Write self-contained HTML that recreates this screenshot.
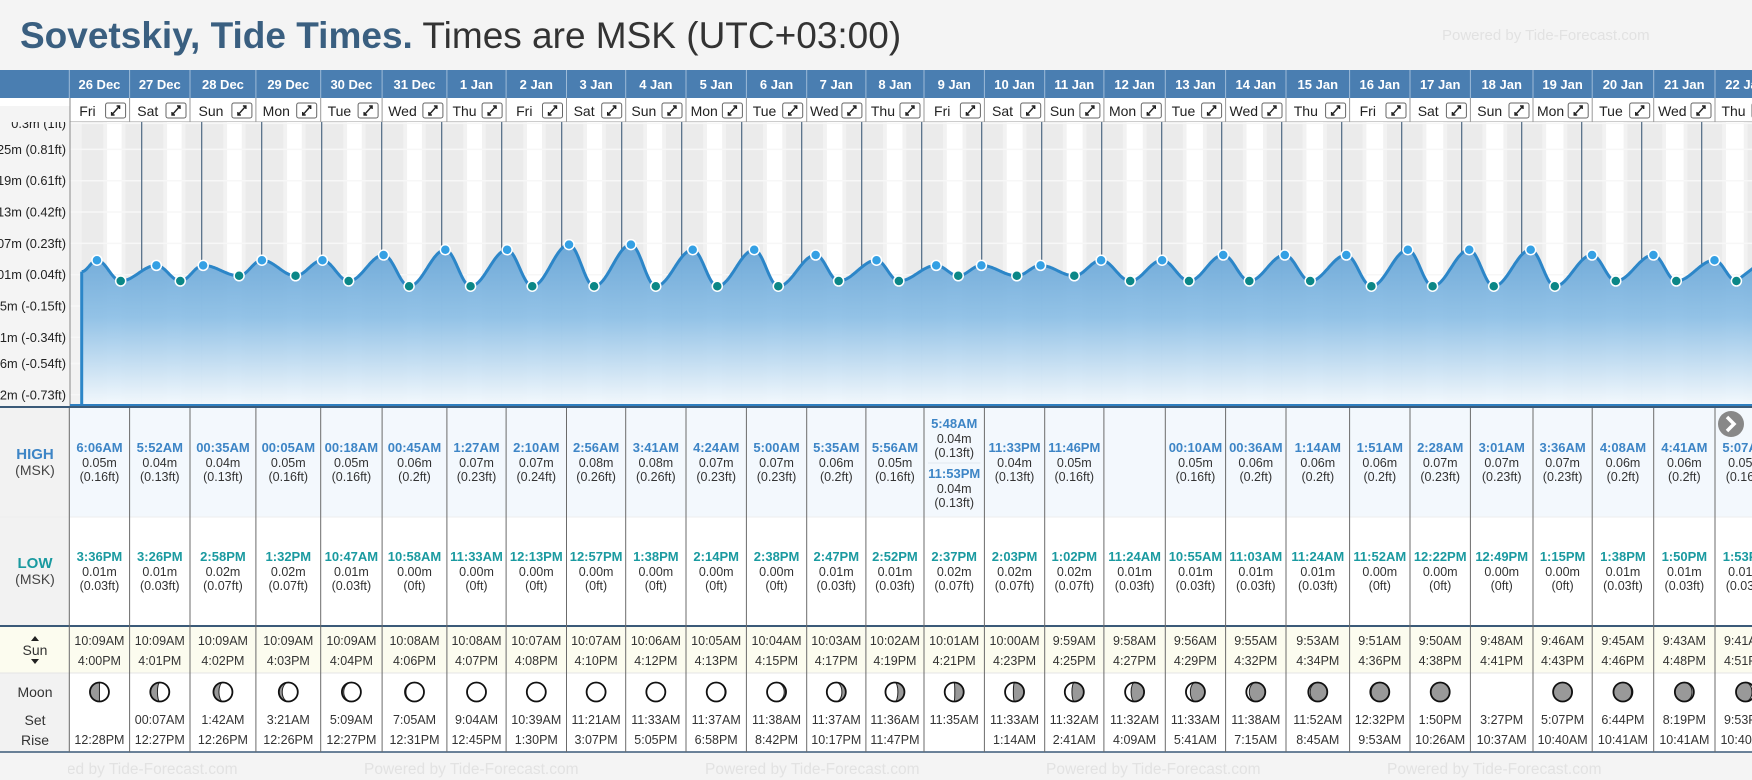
<!DOCTYPE html>
<html><head><meta charset="utf-8"><style>
html,body{margin:0;padding:0;background:#f4f4f4;width:1752px;height:780px;overflow:hidden;font-family:"Liberation Sans",Arial,sans-serif}
svg text{font-family:"Liberation Sans",Arial,sans-serif}
</style></head><body>
<svg id="s" width="1752" height="780" viewBox="0 0 1752 780" xmlns="http://www.w3.org/2000/svg">
<defs>
<linearGradient id="areaGrad" x1="0" y1="0" x2="0" y2="1">
<stop offset="0" stop-color="#68a5d6"/><stop offset="0.45" stop-color="#8ec0e6"/><stop offset="1" stop-color="#f4f9fd"/>
</linearGradient>
<clipPath id="chartClip"><rect x="70" y="122" width="1682" height="286"/></clipPath>
</defs>
<rect x="0" y="0" width="1752" height="780" fill="#f4f4f4"/>
<text x="20" y="48" font-size="37" fill="#3a5f80" font-weight="bold">Sovetskiy, Tide Times.<tspan fill="#333" font-weight="normal"> Times are MSK (UTC+03:00)</tspan></text>
<text x="1442" y="40" font-size="15" fill="#e2e2e2">Powered by Tide-Forecast.com</text>
<g id="g"></g>
</svg>
<script>
const dates=["26 Dec","27 Dec","28 Dec","29 Dec","30 Dec","31 Dec","1 Jan","2 Jan","3 Jan","4 Jan","5 Jan","6 Jan","7 Jan","8 Jan","9 Jan","10 Jan","11 Jan","12 Jan","13 Jan","14 Jan","15 Jan","16 Jan","17 Jan","18 Jan","19 Jan","20 Jan","21 Jan","22 Jan"];
const dayNames=["Fri","Sat","Sun","Mon","Tue","Wed","Thu","Fri","Sat","Sun","Mon","Tue","Wed","Thu","Fri","Sat","Sun","Mon","Tue","Wed","Thu","Fri","Sat","Sun","Mon","Tue","Wed","Thu"];
const highDay=[0,1,2,3,4,5,6,7,8,9,10,11,12,13,14,14,15,16,18,19,20,21,22,23,24,25,26,27];
const highTime=["6:06AM","5:52AM","00:35AM","00:05AM","00:18AM","00:45AM","1:27AM","2:10AM","2:56AM","3:41AM","4:24AM","5:00AM","5:35AM","5:56AM","5:48AM","11:53PM","11:33PM","11:46PM","00:10AM","00:36AM","1:14AM","1:51AM","2:28AM","3:01AM","3:36AM","4:08AM","4:41AM","5:07AM"];
const highM=[0.05,0.04,0.04,0.05,0.05,0.06,0.07,0.07,0.08,0.08,0.07,0.07,0.06,0.05,0.04,0.04,0.04,0.05,0.05,0.06,0.06,0.06,0.07,0.07,0.07,0.06,0.06,0.05];
const highFt=["0.16","0.13","0.13","0.16","0.16","0.2","0.23","0.24","0.26","0.26","0.23","0.23","0.2","0.16","0.13","0.13","0.13","0.16","0.16","0.2","0.2","0.2","0.23","0.23","0.23","0.2","0.2","0.16"];
const lowTime=["3:36PM","3:26PM","2:58PM","1:32PM","10:47AM","10:58AM","11:33AM","12:13PM","12:57PM","1:38PM","2:14PM","2:38PM","2:47PM","2:52PM","2:37PM","2:03PM","1:02PM","11:24AM","10:55AM","11:03AM","11:24AM","11:52AM","12:22PM","12:49PM","1:15PM","1:38PM","1:50PM","1:53PM"];
const lowM=[0.01,0.01,0.02,0.02,0.01,0.00,0.00,0.00,0.00,0.00,0.00,0.00,0.01,0.01,0.02,0.02,0.02,0.01,0.01,0.01,0.01,0.00,0.00,0.00,0.00,0.01,0.01,0.01];
const lowFt=["0.03","0.03","0.07","0.07","0.03","0","0","0","0","0","0","0","0.03","0.03","0.07","0.07","0.07","0.03","0.03","0.03","0.03","0","0","0","0","0.03","0.03","0.03"];
const sunrise=["10:09AM","10:09AM","10:09AM","10:09AM","10:09AM","10:08AM","10:08AM","10:07AM","10:07AM","10:06AM","10:05AM","10:04AM","10:03AM","10:02AM","10:01AM","10:00AM","9:59AM","9:58AM","9:56AM","9:55AM","9:53AM","9:51AM","9:50AM","9:48AM","9:46AM","9:45AM","9:43AM","9:41AM"];
const sunset=["4:00PM","4:01PM","4:02PM","4:03PM","4:04PM","4:06PM","4:07PM","4:08PM","4:10PM","4:12PM","4:13PM","4:15PM","4:17PM","4:19PM","4:21PM","4:23PM","4:25PM","4:27PM","4:29PM","4:32PM","4:34PM","4:36PM","4:38PM","4:41PM","4:43PM","4:46PM","4:48PM","4:51PM"];
const moonSet=["","00:07AM","1:42AM","3:21AM","5:09AM","7:05AM","9:04AM","10:39AM","11:21AM","11:33AM","11:37AM","11:38AM","11:37AM","11:36AM","11:35AM","11:33AM","11:32AM","11:32AM","11:33AM","11:38AM","11:52AM","12:32PM","1:50PM","3:27PM","5:07PM","6:44PM","8:19PM","9:53PM"];
const moonRise=["12:28PM","12:27PM","12:26PM","12:26PM","12:27PM","12:31PM","12:45PM","1:30PM","3:07PM","5:05PM","6:58PM","8:42PM","10:17PM","11:47PM","","1:14AM","2:41AM","4:09AM","5:41AM","7:15AM","8:45AM","9:53AM","10:26AM","10:37AM","10:40AM","10:41AM","10:41AM","10:40AM"];
const moonPhase=[0.25,0.29,0.32,0.36,0.40,0.43,0.46,0.49,0.5,0.52,0.56,0.60,0.65,0.70,0.74,0.77,0.79,0.81,0.84,0.87,0.90,0.93,0.99,null,0.03,0.07,0.10,0.13];
const tickM=[0.3,0.25,0.19,0.13,0.07,0.01,-0.05,-0.11,-0.16,-0.22];
const tickLbl=["0.3m (1ft)","0.25m (0.81ft)","0.19m (0.61ft)","0.13m (0.42ft)","0.07m (0.23ft)","0.01m (0.04ft)","-0.05m (-0.15ft)","-0.11m (-0.34ft)","-0.16m (-0.54ft)","-0.22m (-0.73ft)"];

const NS="http://www.w3.org/2000/svg";
const G=document.getElementById('g');
function el(tag,attrs,parent,txt){const e=document.createElementNS(NS,tag);for(const k in attrs)e.setAttribute(k,attrs[k]);if(txt!==undefined)e.textContent=txt;(parent||G).appendChild(e);return e;}
const colX=[69.3,129.6,190,255.9,320.7,382.1,446.9,506.1,566.5,625.7,686,746.4,806.7,865.9,924,984.4,1044.7,1103.9,1165.3,1225.6,1286,1349.6,1410,1470.4,1533,1592.2,1653.7,1715,1776];
const X0=81.7,DAYW=60;
function xT(day,hours){return X0+(day+hours/24)*DAYW;}
function yM(v){return 281-(v-0.01)*520;}
function yTick(v){return 274.7-(v-0.01)*522;}
function parseT(s){const m=s.match(/(\d+):(\d+)(AM|PM)/);let h=+m[1]%12;if(m[3]==="PM")h+=12;return h+(+m[2])/60;}

let r=el('rect',{x:0,y:70,width:1752,height:28,fill:'#4a7eb1'});

r=el('rect',{x:70,y:98,width:1682,height:24,fill:'#fff'});

for(let i=0;i<dates.length;i++){
  const a=colX[i],b=colX[i+1],cx=(a+b)/2;
  let t=el('text',{x:cx,y:89,'text-anchor':'middle','font-size':13,'font-weight':'bold',fill:'#fff'},G,dates[i]);
  
  el('line',{x1:a,y1:70,x2:a,y2:98,stroke:'#9dbbd8','stroke-width':1});
  el('line',{x1:a,y1:98,x2:a,y2:122,stroke:'#999','stroke-width':1});
  t=el('text',{x:(a+b-24)/2,y:116,'text-anchor':'middle','font-size':14,fill:'#222'},G,dayNames[i]);
  
  const bx=b-24;
  const g=el('g',{});
  
  el('rect',{x:bx,y:103,width:20,height:15,rx:2,fill:'#fff',stroke:'#666','stroke-width':1},g);
  el('path',{d:`M${bx+6} 115L${bx+14} 106M${bx+11} 106h3v3M${bx+6} 112v3h3`,stroke:'#222','stroke-width':1.4,fill:'none'},g);
}
el('line',{x1:70,y1:122,x2:1752,y2:122,stroke:'#999'});

r=el('rect',{x:0,y:122,width:70,height:286,fill:'#f4f4f4'});

el('rect',{x:70,y:122,width:1682,height:284,fill:'#ebebeb'});
const chart=el('g',{'clip-path':'url(#chartClip)'});
el('rect',{x:70,y:122,width:X0-70,height:284,fill:'#f2f2f2'},chart);
for(let d=0;d<dates.length;d++){
  const sr=parseT(sunrise[d]),ss=parseT(sunset[d]);
  el('rect',{x:xT(d,sr-1.5),y:122,width:xT(d,sr)-xT(d,sr-1.5),height:284,fill:'#f2f2f2'},chart);
  el('rect',{x:xT(d,ss),y:122,width:xT(d,ss+1.5)-xT(d,ss),height:284,fill:'#f2f2f2'},chart);
  let b=el('rect',{x:xT(d,sr),y:122,width:xT(d,ss)-xT(d,sr),height:284,fill:'#ffffff'},chart);
  
}
for(let i=0;i<tickM.length;i++){
  const y=yTick(tickM[i]);
  el('line',{x1:70,y1:y,x2:1752,y2:y,stroke:'#f7f7f7','stroke-width':1.5},chart);
  let t=el('text',{x:66,y:y+4.5,'text-anchor':'end','font-size':12.8,fill:'#222'},G,tickLbl[i]);
  
}
el('rect',{x:0,y:106,width:70,height:16,fill:'#f4f4f4'});
el('rect',{x:0,y:98,width:70,height:8,fill:'#fff'});
el('line',{x1:70,y1:98,x2:70,y2:408,stroke:'#888'});

const ev=[{t:0,v:0.028,hi:null}];
for(let i=0;i<highTime.length;i++)ev.push({t:highDay[i]+parseT(highTime[i])/24,v:highM[i],hi:true});
for(let i=0;i<lowTime.length;i++)ev.push({t:i+parseT(lowTime[i])/24,v:lowM[i],hi:false});
ev.sort((a,b)=>a.t-b.t);
const pts=[];
for(let k=0;k<ev.length-1;k++){
  const a=ev[k],b=ev[k+1];
  const xa=X0+a.t*DAYW,xb=X0+b.t*DAYW;
  for(let x=xa;x<xb;x+=1){const f=(x-xa)/(xb-xa);const v=a.v+(b.v-a.v)*(1-Math.cos(Math.PI*f))/2;pts.push([x,yM(v)]);}
}
const last=ev[ev.length-1];
pts.push([X0+last.t*DAYW,yM(last.v)]);
pts.push([1760,yM(0.045)]);
for(let d=1;d<dates.length;d++){
  const x=X0+d*DAYW;
  let yc=406;for(const p of pts){if(p[0]>=x){yc=p[1];break;}}
  let l=el('line',{x1:x,y1:122,x2:x,y2:yc,stroke:'#4d6883','stroke-width':1.2},chart);
  
  el('line',{x1:x,y1:yc,x2:x,y2:406,stroke:'#c5d3de','stroke-width':1},chart);
}
let dstr='M'+pts.map(p=>p[0].toFixed(1)+' '+p[1].toFixed(1)).join('L');
let area=el('path',{d:dstr+`L1760 406L${X0} 406Z`,fill:'url(#areaGrad)',opacity:0.95},chart);

let ln=el('path',{d:dstr,fill:'none',stroke:'#2c86c8','stroke-width':3},chart);

el('line',{x1:X0,y1:pts[0][1],x2:X0,y2:406,stroke:'#2c86c8','stroke-width':3},chart);
for(const e of ev){if(e.hi===null)continue;
  const c=el('circle',{cx:X0+e.t*DAYW,cy:yM(e.v),r:5,fill:e.hi?'#34a0e4':'#0b8787',stroke:'#fff','stroke-width':1.5},chart);
  
}
el('rect',{x:70,y:404,width:1682,height:3,fill:'#2f7fc0'});
el('line',{x1:0,y1:407,x2:1752,y2:407,stroke:'#3b5a78','stroke-width':2});

r=el('rect',{x:0,y:408,width:70,height:344,fill:'#f2f2f2'});

el('rect',{x:70,y:408,width:1682,height:109,fill:'#f3f8fd'});
el('rect',{x:70,y:517,width:1682,height:109,fill:'#fff'});
el('line',{x1:0,y1:517,x2:1752,y2:517,stroke:'#eeeeee'});
el('rect',{x:0,y:626,width:1752,height:47,fill:'#fcfcef'});
el('line',{x1:0,y1:626,x2:1752,y2:626,stroke:'#3b5a78','stroke-width':2});
el('rect',{x:70,y:673,width:1682,height:79,fill:'#fff'});
el('line',{x1:0,y1:673,x2:1752,y2:673,stroke:'#e4e4e4'});
el('line',{x1:0,y1:752,x2:1752,y2:752,stroke:'#3b5a78','stroke-width':1.5});
function lab(x,y,s,txt,fill,w,name){const t=el('text',{x:x,y:y,'text-anchor':'middle','font-size':s,fill:fill,'font-weight':w||'normal'},G,txt);return t;}
lab(35,459,15,'HIGH','#3d85c6','bold','high-row-label');lab(35,475,14,'(MSK)','#444','normal','high-row-unit');
lab(35,568,15,'LOW','#1a9aa0','bold','low-row-label');lab(35,584,14,'(MSK)','#444','normal','low-row-unit');
lab(35,655,14,'Sun','#333','normal','sun-row-label');
el('path',{d:'M31 641l4-5 4 5zM31 659l4 5 4-5z',fill:'#222'});
lab(35,697,14,'Moon','#333','normal','moon-row-label');
lab(35,725,14,'Set','#333','normal','moonset-row-label');
lab(35,745,14,'Rise','#333','normal','moonrise-row-label');
for(let i=0;i<=dates.length;i++){const x=colX[i];el('line',{x1:x,y1:408,x2:x,y2:752,stroke:'#6b6b6b','stroke-width':1});}
const cxs=i=>(colX[i]+colX[i+1])/2;
const byDay={};for(let i=0;i<highDay.length;i++){(byDay[highDay[i]]=byDay[highDay[i]]||[]).push(i);}
for(const d in byDay){const idx=byDay[d];const cx=cxs(+d);
  idx.forEach((i,k)=>{const y0=idx.length>1?428+k*50:452;
    lab(cx,y0,13,highTime[i],'#3d85c6','bold','high-tide-time');
    lab(cx,y0+15,12.5,highM[i].toFixed(2)+'m','#333','normal','high-tide-height');
    lab(cx,y0+29,12.5,'('+highFt[i]+'ft)','#333','normal','high-tide-height-ft');
    if(idx.length>1&&k==0)el('line',{x1:colX[+d]+4,y1:463,x2:colX[+d+1]-4,y2:463,stroke:'#e2e8ee'});
  });
}
for(let i=0;i<lowTime.length;i++){const cx=cxs(i);
  lab(cx,561,13,lowTime[i],'#1a9aa0','bold','low-tide-time');
  lab(cx,576,12.5,lowM[i].toFixed(2)+'m','#333','normal','low-tide-height');
  lab(cx,590,12.5,'('+lowFt[i]+'ft)','#333','normal','low-tide-height-ft');
}
for(let i=0;i<dates.length;i++){const cx=cxs(i);
  lab(cx,645,12.5,sunrise[i],'#333','normal','sunrise-time');
  lab(cx,665,12.5,sunset[i],'#333','normal','sunset-time');
  lab(cx,724,12.5,moonSet[i],'#333','normal','moonset-time');
  lab(cx,744,12.5,moonRise[i],'#333','normal','moonrise-time');
  const p=moonPhase[i];if(p===null)continue;
  const cy=692,R=9.5;
  const mg=el('g',{});
  el('circle',{cx:cx,cy:cy,r:R,fill:'#999'},mg);
  const waxing=p<0.5;const rx=Math.abs(Math.cos(2*Math.PI*p))*R;
  const gib=(p>0.25&&p<0.75);
  const sweepOuter=waxing?1:0;
  const sweepInner=gib?(waxing?1:0):(waxing?0:1);
  el('path',{d:`M${cx} ${cy-R}A${R} ${R} 0 0 ${sweepOuter} ${cx} ${cy+R}A${rx.toFixed(2)} ${R} 0 0 ${sweepInner} ${cx} ${cy-R}Z`,fill:'#fff',stroke:'#222','stroke-width':1},mg);
  el('circle',{cx:cx,cy:cy,r:R,fill:'none',stroke:'#111','stroke-width':1.8},mg);
}
for(let k=0;k<6;k++){const t=el('text',{x:-318+k*341,y:774,'font-size':15.5,fill:'#e2e2e2'},G,'Powered by Tide-Forecast.com');}
el('rect',{x:0,y:753,width:68,height:27,fill:'#f4f4f4'});
const nb=el('g',{});
el('circle',{cx:1731,cy:424,r:13,fill:'#888'},nb);
el('path',{d:'M1727 417l7 7-7 7',stroke:'#fff','stroke-width':3.5,fill:'none'},nb);
</script>
</body></html>
